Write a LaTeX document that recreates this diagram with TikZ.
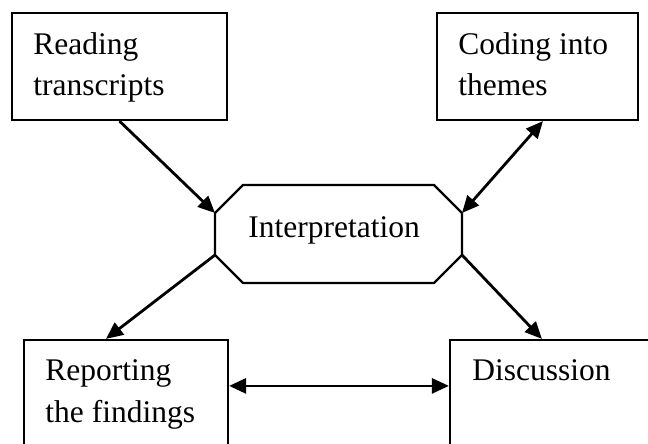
\documentclass[tikz,border=0pt]{standalone}
\usepackage{fontspec}
\setmainfont{Liberation Serif}
\usetikzlibrary{arrows.meta}
\begin{document}
\begin{tikzpicture}[x=0.5pt,y=-0.5pt,
  box/.style={draw, line width=1.1pt, inner sep=0pt},
  label/.style={font=\fontsize{15.75}{20.75}\selectfont, inner sep=0pt,
    anchor=north west, align=left},
  tip/.tip={Triangle[length=8.5pt,width=7.5pt]},
  link/.style={line width=1.4pt, -tip},
  both/.style={line width=1.4pt, tip-tip}]
\useasboundingbox (0,0) rectangle (648,444);
\clip (0,0) rectangle (648,444);

% rectangular stages
\node[box, minimum width=107.5pt, minimum height=53.5pt] (read) at (119.5,66.5) {};
\node[box, minimum width=100.5pt, minimum height=53.5pt] (code) at (537.5,66.5) {};
\node[box, minimum width=102pt, minimum height=65pt] (rep) at (126,405) {};
\node[box, minimum width=110pt, minimum height=65pt] (disc) at (560,405) {};

% octagonal centre stage
\coordinate (ioul) at (215,213);
\coordinate (iour) at (462,213);
\coordinate (iodl) at (215,255);
\coordinate (iodr) at (462,255);
\draw[line width=1.1pt] (243,185) -- (434,185) -- (iour) -- (iodr) -- (434,283)
  -- (243,283) -- (iodl) -- (ioul) -- cycle;

% stage labels
\node[label] (readtxt) at (33,32) {Reading\\transcripts};
\node[label] (codetxt) at (458,32) {Coding into\\themes};
\node[label] (interp) at (248,216) {Interpretation};
\node[label] (reptxt) at (45,359.5) {Reporting\\the findings};
\node[label] (disctxt) at (472,359.5) {Discussion};

% connectors
\draw[link] (read.south) -- (ioul);
\draw[both] (iour) -- ([xshift=2.75pt]code.south);
\draw[link] (iodl) -- ([xshift=-10pt]rep.north);
\draw[link] (iodr) -- ([xshift=46.5pt]disc.north west);
\draw[both] ([yshift=-23.5pt]rep.north east) -- ([yshift=-23.5pt]disc.north west);
\end{tikzpicture}
\end{document}
